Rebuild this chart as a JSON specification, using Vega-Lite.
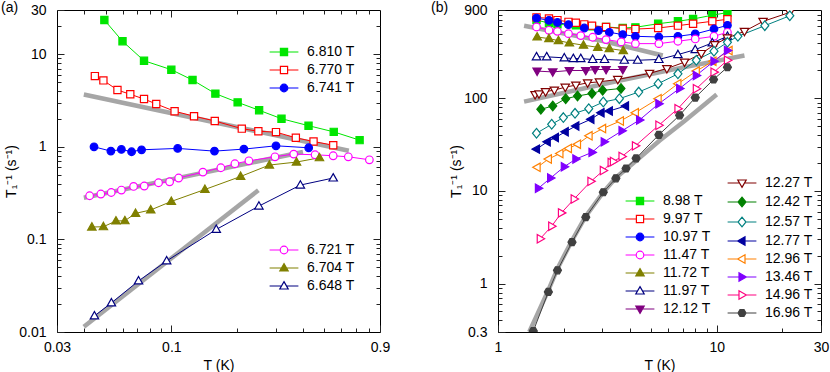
{
"$schema":"https://vega.github.io/schema/vega-lite/v6.json",
"padding":{"left":0,"top":0,"right":0,"bottom":0},
"spacing":39,
"config":{"font":"Liberation Sans","view":{"stroke":"#000","strokeWidth":1},
 "axis":{"domain":false,"grid":false,"tickColor":"#222","tickWidth":1,"labelFontSize":14,"labelColor":"#000","titleFontSize":14,"titleFontWeight":"normal","titleColor":"#000","labelFlush":false,"labelOverlap":false},
 "legend":{"labelFontSize":14,"labelColor":"#000","padding":0,"symbolStrokeWidth":1.2,"symbolOpacity":1,"rowPadding":4,"labelOffset":16,"symbolSize":64,"labelLimit":300},
 "title":{"fontSize":14,"fontWeight":"normal","color":"#000"}},
"resolve":{"scale":{"stroke":"independent","fill":"independent","shape":"independent"}},
"datasets":{
"afit":[{"f":"f1","T":0.0398,"r":3.67},{"f":"f1","T":0.648,"r":0.905},{"f":"f2","T":0.0398,"r":0.282},{"f":"f2","T":0.40,"r":0.88},{"f":"f3","T":0.0398,"r":0.0114},{"f":"f3","T":0.25,"r":0.34}],
"a1":[
{"s":"6.810 T","T":0.0494,"r":23.4},{"s":"6.810 T","T":0.0598,"r":13.8},{"s":"6.810 T","T":0.075,"r":8.5},{"s":"6.810 T","T":0.1,"r":6.8},{"s":"6.810 T","T":0.125,"r":5.26},{"s":"6.810 T","T":0.159,"r":3.75},{"s":"6.810 T","T":0.201,"r":3.02},{"s":"6.810 T","T":0.252,"r":2.48},{"s":"6.810 T","T":0.319,"r":2.01},{"s":"6.810 T","T":0.424,"r":1.69},{"s":"6.810 T","T":0.553,"r":1.45},{"s":"6.810 T","T":0.726,"r":1.18},
{"s":"6.770 T","T":0.0447,"r":5.8},{"s":"6.770 T","T":0.0489,"r":5.21},{"s":"6.770 T","T":0.0567,"r":4.1},{"s":"6.770 T","T":0.0649,"r":3.69},{"s":"6.770 T","T":0.075,"r":3.28},{"s":"6.770 T","T":0.0853,"r":2.9},{"s":"6.770 T","T":0.1035,"r":2.42},{"s":"6.770 T","T":0.127,"r":2.14},{"s":"6.770 T","T":0.158,"r":1.9},{"s":"6.770 T","T":0.21,"r":1.57},{"s":"6.770 T","T":0.25,"r":1.47},{"s":"6.770 T","T":0.301,"r":1.44},{"s":"6.770 T","T":0.371,"r":1.25},{"s":"6.770 T","T":0.447,"r":1.14},{"s":"6.770 T","T":0.55,"r":1.04},
{"s":"6.741 T","T":0.0443,"r":1.0},{"s":"6.741 T","T":0.0529,"r":0.898},{"s":"6.741 T","T":0.0591,"r":0.936},{"s":"6.741 T","T":0.0658,"r":0.884},{"s":"6.741 T","T":0.0731,"r":0.928},{"s":"6.741 T","T":0.1069,"r":0.96},{"s":"6.741 T","T":0.1575,"r":0.898},{"s":"6.741 T","T":0.2147,"r":0.944},{"s":"6.741 T","T":0.301,"r":1.025},{"s":"6.741 T","T":0.4247,"r":0.976}],
"a2":[
{"s":"6.721 T","T":0.0423,"r":0.296},{"s":"6.721 T","T":0.0476,"r":0.309},{"s":"6.721 T","T":0.0531,"r":0.321},{"s":"6.721 T","T":0.0591,"r":0.341},{"s":"6.721 T","T":0.0672,"r":0.373},{"s":"6.721 T","T":0.0752,"r":0.377},{"s":"6.721 T","T":0.0874,"r":0.409},{"s":"6.721 T","T":0.0982,"r":0.419},{"s":"6.721 T","T":0.108,"r":0.46},{"s":"6.721 T","T":0.1394,"r":0.533},{"s":"6.721 T","T":0.1684,"r":0.594},{"s":"6.721 T","T":0.1953,"r":0.656},{"s":"6.721 T","T":0.2263,"r":0.706},{"s":"6.721 T","T":0.2978,"r":0.78},{"s":"6.721 T","T":0.3628,"r":0.834},{"s":"6.721 T","T":0.4543,"r":0.82},{"s":"6.721 T","T":0.5498,"r":0.8},{"s":"6.721 T","T":0.6446,"r":0.78},{"s":"6.721 T","T":0.8047,"r":0.724},
{"s":"6.704 T","T":0.0433,"r":0.136},{"s":"6.704 T","T":0.0489,"r":0.137},{"s":"6.704 T","T":0.0558,"r":0.158},{"s":"6.704 T","T":0.0613,"r":0.159},{"s":"6.704 T","T":0.0686,"r":0.191},{"s":"6.704 T","T":0.0805,"r":0.208},{"s":"6.704 T","T":0.1,"r":0.257},{"s":"6.704 T","T":0.1424,"r":0.346},{"s":"6.704 T","T":0.2074,"r":0.478},{"s":"6.704 T","T":0.2806,"r":0.635},{"s":"6.704 T","T":0.3735,"r":0.684},{"s":"6.704 T","T":0.4757,"r":0.761},
{"s":"6.648 T","T":0.0445,"r":0.0149},{"s":"6.648 T","T":0.0532,"r":0.0206},{"s":"6.648 T","T":0.0708,"r":0.0356},{"s":"6.648 T","T":0.0952,"r":0.0585},{"s":"6.648 T","T":0.1605,"r":0.128},{"s":"6.648 T","T":0.2515,"r":0.229},{"s":"6.648 T","T":0.3891,"r":0.386},{"s":"6.648 T","T":0.5498,"r":0.46}],
"bfit":[{"f":"f1","T":1.316,"r":609},{"f":"f1","T":3.06,"r":414},{"f":"f1","T":5.67,"r":290},
{"f":"f2","T":1.316,"r":92.1},{"f":"f2","T":3.35,"r":150},{"f":"f2","T":6.77,"r":212},{"f":"f2","T":13.4,"r":290},
{"f":"f3","T":1.39,"r":0.3},{"f":"f3","T":1.7,"r":0.848},{"f":"f3","T":1.87,"r":1.45},{"f":"f3","T":2.18,"r":2.92},{"f":"f3","T":2.52,"r":5.34},{"f":"f3","T":3.03,"r":9.68},{"f":"f3","T":3.46,"r":13.9},{"f":"f3","T":4.28,"r":21.2},{"f":"f3","T":5.47,"r":34.8},{"f":"f3","T":7.13,"r":57},{"f":"f3","T":10.0,"r":110}],
"b1":[
{"s":"8.98 T","T":1.5,"r":700},{"s":"8.98 T","T":1.71,"r":650},{"s":"8.98 T","T":1.87,"r":630},{"s":"8.98 T","T":2.27,"r":615},{"s":"8.98 T","T":2.69,"r":600},{"s":"8.98 T","T":3.12,"r":590},{"s":"8.98 T","T":3.72,"r":575},{"s":"8.98 T","T":4.25,"r":585},{"s":"8.98 T","T":5.4,"r":640},{"s":"8.98 T","T":6.65,"r":680},{"s":"8.98 T","T":7.8,"r":720},{"s":"8.98 T","T":9.55,"r":790},{"s":"8.98 T","T":11.2,"r":845},
{"s":"9.97 T","T":1.5,"r":750},{"s":"9.97 T","T":1.71,"r":730},{"s":"9.97 T","T":1.87,"r":700},{"s":"9.97 T","T":2.1,"r":670},{"s":"9.97 T","T":2.27,"r":655},{"s":"9.97 T","T":2.48,"r":630},{"s":"9.97 T","T":2.69,"r":610},{"s":"9.97 T","T":3.12,"r":590},{"s":"9.97 T","T":3.72,"r":565},{"s":"9.97 T","T":4.25,"r":560},{"s":"9.97 T","T":5.4,"r":575},{"s":"9.97 T","T":6.65,"r":610},{"s":"9.97 T","T":7.8,"r":640},{"s":"9.97 T","T":9.55,"r":680},{"s":"9.97 T","T":11.2,"r":715},
{"s":"10.97 T","T":1.5,"r":737},{"s":"10.97 T","T":1.71,"r":695},{"s":"10.97 T","T":1.87,"r":660},{"s":"10.97 T","T":2.1,"r":625},{"s":"10.97 T","T":2.48,"r":575},{"s":"10.97 T","T":2.88,"r":539},{"s":"10.97 T","T":3.23,"r":517},{"s":"10.97 T","T":3.72,"r":488},{"s":"10.97 T","T":4.25,"r":468},{"s":"10.97 T","T":5.44,"r":460},{"s":"10.97 T","T":6.65,"r":468},{"s":"10.97 T","T":7.98,"r":496},{"s":"10.97 T","T":9.72,"r":561},{"s":"10.97 T","T":11.2,"r":615},
{"s":"11.47 T","T":1.5,"r":590},{"s":"11.47 T","T":1.71,"r":543},{"s":"11.47 T","T":1.87,"r":529},{"s":"11.47 T","T":2.1,"r":500},{"s":"11.47 T","T":2.39,"r":476},{"s":"11.47 T","T":2.71,"r":457},{"s":"11.47 T","T":3.12,"r":431},{"s":"11.47 T","T":3.66,"r":407},{"s":"11.47 T","T":4.25,"r":390},{"s":"11.47 T","T":5.44,"r":390},{"s":"11.47 T","T":6.65,"r":414},{"s":"11.47 T","T":7.98,"r":438},{"s":"11.47 T","T":9.72,"r":468},{"s":"11.47 T","T":11.2,"r":517},
{"s":"11.72 T","T":1.51,"r":460},{"s":"11.72 T","T":1.71,"r":442},{"s":"11.72 T","T":1.89,"r":420},{"s":"11.72 T","T":2.12,"r":397},{"s":"11.72 T","T":2.46,"r":375},{"s":"11.72 T","T":2.86,"r":356},{"s":"11.72 T","T":3.23,"r":345},{"s":"11.72 T","T":3.74,"r":328},
{"s":"11.97 T","T":1.5,"r":281},{"s":"11.97 T","T":1.67,"r":281},{"s":"11.97 T","T":2.01,"r":274},{"s":"11.97 T","T":2.21,"r":269},{"s":"11.97 T","T":2.39,"r":269},{"s":"11.97 T","T":2.71,"r":263},{"s":"11.97 T","T":3.07,"r":263},{"s":"11.97 T","T":3.78,"r":258},{"s":"11.97 T","T":4.35,"r":258},{"s":"11.97 T","T":5.44,"r":263},{"s":"11.97 T","T":6.65,"r":297},{"s":"11.97 T","T":7.98,"r":336},{"s":"11.97 T","T":9.55,"r":397},{"s":"11.97 T","T":11.2,"r":468},
{"s":"12.12 T","T":1.51,"r":197},{"s":"12.12 T","T":1.78,"r":193},{"s":"12.12 T","T":2.12,"r":200},{"s":"12.12 T","T":2.52,"r":200},{"s":"12.12 T","T":2.78,"r":205},{"s":"12.12 T","T":3.12,"r":205},{"s":"12.12 T","T":3.72,"r":205}],
"b2":[
{"s":"12.27 T","T":1.478,"r":110},{"s":"12.27 T","T":1.54,"r":112},{"s":"12.27 T","T":1.65,"r":118},{"s":"12.27 T","T":1.81,"r":123},{"s":"12.27 T","T":2.03,"r":132},{"s":"12.27 T","T":2.27,"r":139},{"s":"12.27 T","T":2.57,"r":147},{"s":"12.27 T","T":2.91,"r":151},{"s":"12.27 T","T":3.53,"r":160},{"s":"12.27 T","T":4.93,"r":186},{"s":"12.27 T","T":5.92,"r":210},{"s":"12.27 T","T":7.13,"r":246},{"s":"12.27 T","T":8.51,"r":305},{"s":"12.27 T","T":9.79,"r":381},{"s":"12.27 T","T":11.19,"r":449},{"s":"12.27 T","T":13.4,"r":530},{"s":"12.27 T","T":16.3,"r":678},{"s":"12.27 T","T":21.6,"r":848},
{"s":"12.42 T","T":1.57,"r":76.2},{"s":"12.42 T","T":1.78,"r":82.7},{"s":"12.42 T","T":2.04,"r":99.2},{"s":"12.42 T","T":2.31,"r":106},{"s":"12.42 T","T":2.69,"r":113},{"s":"12.42 T","T":3.01,"r":122},{"s":"12.42 T","T":3.65,"r":128},
{"s":"12.57 T","T":1.5,"r":42},{"s":"12.57 T","T":1.76,"r":52.5},{"s":"12.57 T","T":1.99,"r":62},{"s":"12.57 T","T":2.25,"r":69},{"s":"12.57 T","T":2.6,"r":77.4},{"s":"12.57 T","T":3.03,"r":91.3},{"s":"12.57 T","T":3.59,"r":99.2},{"s":"12.57 T","T":4.4,"r":117},{"s":"12.57 T","T":5.4,"r":144},{"s":"12.57 T","T":6.65,"r":184},{"s":"12.57 T","T":8.07,"r":258},{"s":"12.57 T","T":9.72,"r":323},{"s":"12.57 T","T":11.2,"r":403},{"s":"12.57 T","T":12.5,"r":468},{"s":"12.57 T","T":16.6,"r":609},{"s":"12.57 T","T":21.6,"r":780},
{"s":"12.77 T","T":1.5,"r":28.3},{"s":"12.77 T","T":1.68,"r":33.9},{"s":"12.77 T","T":1.83,"r":37.8},{"s":"12.77 T","T":2.03,"r":43.5},{"s":"12.77 T","T":2.27,"r":50.4},{"s":"12.77 T","T":2.66,"r":59.5},{"s":"12.77 T","T":2.96,"r":70.1},{"s":"12.77 T","T":3.23,"r":73.1},{"s":"12.77 T","T":3.83,"r":82.7},
{"s":"12.96 T","T":1.51,"r":18},{"s":"12.96 T","T":1.7,"r":22.1},{"s":"12.96 T","T":1.92,"r":25.4},{"s":"12.96 T","T":2.1,"r":28.8},{"s":"12.96 T","T":2.31,"r":32},{"s":"12.96 T","T":2.61,"r":39.4},{"s":"12.96 T","T":3.01,"r":47.2},{"s":"12.96 T","T":3.63,"r":57},{"s":"12.96 T","T":4.25,"r":70.1},{"s":"12.96 T","T":5.4,"r":99.2},{"s":"12.96 T","T":6.65,"r":144},{"s":"12.96 T","T":8.07,"r":197},{"s":"12.96 T","T":9.62,"r":252},{"s":"12.96 T","T":11.4,"r":328},
{"s":"13.46 T","T":1.53,"r":10.7},{"s":"13.46 T","T":1.74,"r":13.8},{"s":"13.46 T","T":2.01,"r":18.3},{"s":"13.46 T","T":2.27,"r":22.1},{"s":"13.46 T","T":2.69,"r":26.1},{"s":"13.46 T","T":3.06,"r":33.9},{"s":"13.46 T","T":3.69,"r":44.6},{"s":"13.46 T","T":4.44,"r":58.5},{"s":"13.46 T","T":5.44,"r":87.6},{"s":"13.46 T","T":6.77,"r":128},{"s":"13.46 T","T":8.07,"r":177},{"s":"13.46 T","T":9.72,"r":252},{"s":"13.46 T","T":11.2,"r":328},
{"s":"14.96 T","T":1.56,"r":3.05},{"s":"14.96 T","T":1.76,"r":4.17},{"s":"14.96 T","T":1.95,"r":5.8},{"s":"14.96 T","T":2.23,"r":8.2},{"s":"14.96 T","T":2.66,"r":12.7},{"s":"14.96 T","T":3.03,"r":16.6},{"s":"14.96 T","T":3.29,"r":20.3},{"s":"14.96 T","T":3.37,"r":20.8},{"s":"14.96 T","T":3.69,"r":23.6},{"s":"14.96 T","T":4.25,"r":30.7},{"s":"14.96 T","T":5.44,"r":51.3},{"s":"14.96 T","T":6.65,"r":77.4},{"s":"14.96 T","T":8.07,"r":127},{"s":"14.96 T","T":9.72,"r":192},{"s":"14.96 T","T":11.2,"r":258},
{"s":"16.96 T","T":1.45,"r":0.307},{"s":"16.96 T","T":1.7,"r":0.813},{"s":"16.96 T","T":1.87,"r":1.39},{"s":"16.96 T","T":2.18,"r":2.8},{"s":"16.96 T","T":2.52,"r":5.21},{"s":"16.96 T","T":3.03,"r":9.68},{"s":"16.96 T","T":3.46,"r":13.7},{"s":"16.96 T","T":3.85,"r":17.5},{"s":"16.96 T","T":4.28,"r":22.5},{"s":"16.96 T","T":5.44,"r":40.4},{"s":"16.96 T","T":6.77,"r":65.6},{"s":"16.96 T","T":7.98,"r":102},{"s":"16.96 T","T":9.68,"r":160},{"s":"16.96 T","T":11.2,"r":217}]
},
"hconcat":[
{"width":323,"height":322,
 "title":{"text":"(a)","anchor":"start","frame":"group","dx":-56,"offset":-12},
 "layer":[
  {"data":{"name":"afit"},"mark":{"type":"line","color":"#a6a6a6","strokeWidth":4.5,"clip":true},
   "encoding":{"x":{"field":"T","type":"quantitative","scale":{"type":"log","domain":[0.03,0.9],"nice":false},"axis":{"orient":"bottom","values":[0.03,0.1,0.9],"tickSize":-7,"labelPadding":15,"title":"T (K)","format":"~g","titlePadding":4}},
    "y":{"field":"r","type":"quantitative","scale":{"type":"log","domain":[0.01,30],"nice":false},"axis":{"orient":"left","values":[0.01,0.1,1,10,30],"tickSize":-7,"labelPadding":18,"title":"T₁⁻¹ (s⁻¹)","format":"~g","titlePadding":0}},
    "detail":{"field":"f"}}},
  {"data":{"name":"afit"},"mark":{"type":"line","opacity":0},
   "encoding":{"x":{"field":"T","type":"quantitative","scale":{"type":"log","domain":[0.03,0.9],"nice":false},"axis":{"orient":"bottom","values":[0.04,0.05,0.06,0.07,0.08,0.09,0.2,0.3,0.4,0.5,0.6,0.7,0.8],"tickSize":-4,"labels":false,"title":null}},
    "y":{"field":"r","type":"quantitative","scale":{"type":"log","domain":[0.01,30],"nice":false},"axis":{"orient":"left","values":[0.02,0.03,0.04,0.05,0.06,0.07,0.08,0.09,0.2,0.3,0.4,0.5,0.6,0.7,0.8,0.9,2,3,4,5,6,7,8,9,20],"tickSize":-4,"labels":false,"title":null}},
    "detail":{"field":"f"}}},
  {"data":{"name":"afit"},"mark":{"type":"line","opacity":0},
   "encoding":{"x":{"field":"T","type":"quantitative","scale":{"type":"log","domain":[0.03,0.9],"nice":false},"axis":{"orient":"top","values":[0.1],"tickSize":-7,"labels":false,"title":null}},
    "y":{"field":"r","type":"quantitative","scale":{"type":"log","domain":[0.01,30],"nice":false},"axis":{"orient":"right","values":[0.1,1,10],"tickSize":-7,"labels":false,"title":null}},
    "detail":{"field":"f"}}},
  {"data":{"name":"afit"},"mark":{"type":"line","opacity":0},
   "encoding":{"x":{"field":"T","type":"quantitative","scale":{"type":"log","domain":[0.03,0.9],"nice":false},"axis":{"orient":"top","values":[0.04,0.05,0.06,0.07,0.08,0.09,0.2,0.3,0.4,0.5,0.6,0.7,0.8],"tickSize":-4,"labels":false,"title":null}},
    "y":{"field":"r","type":"quantitative","scale":{"type":"log","domain":[0.01,30],"nice":false},"axis":{"orient":"right","values":[0.02,0.03,0.04,0.05,0.06,0.07,0.08,0.09,0.2,0.3,0.4,0.5,0.6,0.7,0.8,0.9,2,3,4,5,6,7,8,9,20],"tickSize":-4,"labels":false,"title":null}},
    "detail":{"field":"f"}}},
  {"data":{"name":"a1"},
   "layer":[
    {"mark":{"type":"point","opacity":0,"size":64},
     "encoding":{"x":{"field":"T","type":"quantitative","scale":{"type":"log","domain":[0.03,0.9],"nice":false},"axis":null},"y":{"field":"r","type":"quantitative","scale":{"type":"log","domain":[0.01,30],"nice":false},"axis":null},
      "stroke":{"field":"s","type":"nominal","scale":{"domain":["6.810 T","6.770 T","6.741 T"],"range":["#00e600","#ff0000","#0000ff"]},
        "legend":{"orient":"none","legendX":220,"legendY":35,"title":null}},
      "fill":{"field":"s","type":"nominal","scale":{"domain":["6.810 T","6.770 T","6.741 T"],"range":["#00e600","#ffffff","#0000ff"]}},
      "shape":{"field":"s","type":"nominal","scale":{"domain":["6.810 T","6.770 T","6.741 T"],"range":["M-3.6,0H-0.9M0.9,0H3.6M-0.9,-0.9H0.9V0.9H-0.9Z","M-3.6,0H-0.9M0.9,0H3.6M-0.9,-0.9H0.9V0.9H-0.9Z","M-3.6,0H-0.95M0.95,0H3.6M0.95,0A0.95,0.95,0,1,1,-0.95,0A0.95,0.95,0,1,1,0.95,0Z"]}}}},
    {"mark":{"type":"line","strokeWidth":1,"clip":true},
     "encoding":{"x":{"field":"T","type":"quantitative","scale":{"type":"log","domain":[0.03,0.9],"nice":false},"axis":null},"y":{"field":"r","type":"quantitative","scale":{"type":"log","domain":[0.01,30],"nice":false},"axis":null},
      "stroke":{"field":"s","type":"nominal","scale":{"domain":["6.810 T","6.770 T","6.741 T"],"range":["#00e600","#ff0000","#0000ff"]}}}},
    {"transform":[{"filter":{"field":"s","equal":"6.810 T"}}],"mark":{"type":"point","shape":"M-0.9,-0.9H0.9V0.9H-0.9Z","filled":true,"fill":"#00e600","size":64,"strokeWidth":1.2,"opacity":1,"clip":true},
     "encoding":{"x":{"field":"T","type":"quantitative","scale":{"type":"log","domain":[0.03,0.9],"nice":false},"axis":null},"y":{"field":"r","type":"quantitative","scale":{"type":"log","domain":[0.01,30],"nice":false},"axis":null},
      "stroke":{"field":"s","type":"nominal","scale":{"domain":["6.810 T","6.770 T","6.741 T"],"range":["#00e600","#ff0000","#0000ff"]}}}},
    {"transform":[{"filter":{"field":"s","equal":"6.770 T"}}],"mark":{"type":"point","shape":"M-0.9,-0.9H0.9V0.9H-0.9Z","filled":true,"fill":"#ffffff","size":64,"strokeWidth":1.2,"opacity":1,"clip":true},
     "encoding":{"x":{"field":"T","type":"quantitative","scale":{"type":"log","domain":[0.03,0.9],"nice":false},"axis":null},"y":{"field":"r","type":"quantitative","scale":{"type":"log","domain":[0.01,30],"nice":false},"axis":null},
      "stroke":{"field":"s","type":"nominal","scale":{"domain":["6.810 T","6.770 T","6.741 T"],"range":["#00e600","#ff0000","#0000ff"]}}}},
    {"transform":[{"filter":{"field":"s","equal":"6.741 T"}}],"mark":{"type":"point","shape":"M0.95,0A0.95,0.95,0,1,1,-0.95,0A0.95,0.95,0,1,1,0.95,0Z","filled":true,"fill":"#0000ff","size":64,"strokeWidth":1.2,"opacity":1,"clip":true},
     "encoding":{"x":{"field":"T","type":"quantitative","scale":{"type":"log","domain":[0.03,0.9],"nice":false},"axis":null},"y":{"field":"r","type":"quantitative","scale":{"type":"log","domain":[0.01,30],"nice":false},"axis":null},
      "stroke":{"field":"s","type":"nominal","scale":{"domain":["6.810 T","6.770 T","6.741 T"],"range":["#00e600","#ff0000","#0000ff"]}}}}
   ]},
  {"data":{"name":"a2"},
   "layer":[
    {"mark":{"type":"point","opacity":0,"size":64},
     "encoding":{"x":{"field":"T","type":"quantitative","scale":{"type":"log","domain":[0.03,0.9],"nice":false},"axis":null},"y":{"field":"r","type":"quantitative","scale":{"type":"log","domain":[0.01,30],"nice":false},"axis":null},
      "stroke":{"field":"s","type":"nominal","scale":{"domain":["6.721 T","6.704 T","6.648 T"],"range":["#ff00ff","#808000","#000080"]},
        "legend":{"orient":"none","legendX":220,"legendY":233,"title":null}},
      "fill":{"field":"s","type":"nominal","scale":{"domain":["6.721 T","6.704 T","6.648 T"],"range":["#ffffff","#808000","#ffffff"]}},
      "shape":{"field":"s","type":"nominal","scale":{"domain":["6.721 T","6.704 T","6.648 T"],"range":["M-3.6,0H-0.95M0.95,0H3.6M0.95,0A0.95,0.95,0,1,1,-0.95,0A0.95,0.95,0,1,1,0.95,0Z","M-3.6,0H-0.62M0.62,0H3.6M0,-1.1L1.05,0.75H-1.05Z","M-3.6,0H-0.62M0.62,0H3.6M0,-1.1L1.05,0.75H-1.05Z"]}}}},
    {"mark":{"type":"line","strokeWidth":1,"clip":true},
     "encoding":{"x":{"field":"T","type":"quantitative","scale":{"type":"log","domain":[0.03,0.9],"nice":false},"axis":null},"y":{"field":"r","type":"quantitative","scale":{"type":"log","domain":[0.01,30],"nice":false},"axis":null},
      "stroke":{"field":"s","type":"nominal","scale":{"domain":["6.721 T","6.704 T","6.648 T"],"range":["#ff00ff","#808000","#000080"]}}}},
    {"transform":[{"filter":{"field":"s","equal":"6.721 T"}}],"mark":{"type":"point","shape":"M0.95,0A0.95,0.95,0,1,1,-0.95,0A0.95,0.95,0,1,1,0.95,0Z","filled":true,"fill":"#ffffff","size":64,"strokeWidth":1.2,"opacity":1,"clip":true},
     "encoding":{"x":{"field":"T","type":"quantitative","scale":{"type":"log","domain":[0.03,0.9],"nice":false},"axis":null},"y":{"field":"r","type":"quantitative","scale":{"type":"log","domain":[0.01,30],"nice":false},"axis":null},
      "stroke":{"field":"s","type":"nominal","scale":{"domain":["6.721 T","6.704 T","6.648 T"],"range":["#ff00ff","#808000","#000080"]}}}},
    {"transform":[{"filter":{"field":"s","equal":"6.704 T"}}],"mark":{"type":"point","shape":"M0,-1.1L1.05,0.75H-1.05Z","filled":true,"fill":"#808000","size":64,"strokeWidth":1.2,"opacity":1,"clip":true},
     "encoding":{"x":{"field":"T","type":"quantitative","scale":{"type":"log","domain":[0.03,0.9],"nice":false},"axis":null},"y":{"field":"r","type":"quantitative","scale":{"type":"log","domain":[0.01,30],"nice":false},"axis":null},
      "stroke":{"field":"s","type":"nominal","scale":{"domain":["6.721 T","6.704 T","6.648 T"],"range":["#ff00ff","#808000","#000080"]}}}},
    {"transform":[{"filter":{"field":"s","equal":"6.648 T"}}],"mark":{"type":"point","shape":"M0,-1.1L1.05,0.75H-1.05Z","filled":true,"fill":"#ffffff","size":64,"strokeWidth":1.2,"opacity":1,"clip":true},
     "encoding":{"x":{"field":"T","type":"quantitative","scale":{"type":"log","domain":[0.03,0.9],"nice":false},"axis":null},"y":{"field":"r","type":"quantitative","scale":{"type":"log","domain":[0.01,30],"nice":false},"axis":null},
      "stroke":{"field":"s","type":"nominal","scale":{"domain":["6.721 T","6.704 T","6.648 T"],"range":["#ff00ff","#808000","#000080"]}}}}
   ]}
 ],
 "resolve":{"axis":{"x":"independent","y":"independent"},"scale":{"stroke":"independent","fill":"independent","shape":"independent"}}
},
{"width":323,"height":322,
 "title":{"text":"(b)","anchor":"start","frame":"group","dx":-67,"offset":-12},
 "layer":[
  {"data":{"name":"bfit"},"mark":{"type":"line","color":"#a6a6a6","strokeWidth":4.5,"clip":true},
   "encoding":{"x":{"field":"T","type":"quantitative","scale":{"type":"log","domain":[1,30],"nice":false},"axis":{"orient":"bottom","values":[1,10,30],"tickSize":-7,"labelPadding":15,"title":"T (K)","format":"~g","titlePadding":4}},
    "y":{"field":"r","type":"quantitative","scale":{"type":"log","domain":[0.3,900],"nice":false},"axis":{"orient":"left","values":[0.3,1,10,100,900],"tickSize":-7,"labelPadding":18,"title":"T₁⁻¹ (s⁻¹)","format":"~g","titlePadding":0}},
    "detail":{"field":"f"}}},
  {"data":{"name":"bfit"},"mark":{"type":"line","opacity":0},
   "encoding":{"x":{"field":"T","type":"quantitative","scale":{"type":"log","domain":[1,30],"nice":false},"axis":{"orient":"bottom","values":[2,3,4,5,6,7,8,9,20],"tickSize":-4,"labels":false,"title":null}},
    "y":{"field":"r","type":"quantitative","scale":{"type":"log","domain":[0.3,900],"nice":false},"axis":{"orient":"left","values":[0.4,0.5,0.6,0.7,0.8,0.9,2,3,4,5,6,7,8,9,20,30,40,50,60,70,80,90,200,300,400,500,600,700,800],"tickSize":-4,"labels":false,"title":null}},
    "detail":{"field":"f"}}},
  {"data":{"name":"bfit"},"mark":{"type":"line","opacity":0},
   "encoding":{"x":{"field":"T","type":"quantitative","scale":{"type":"log","domain":[1,30],"nice":false},"axis":{"orient":"top","values":[10],"tickSize":-7,"labels":false,"title":null}},
    "y":{"field":"r","type":"quantitative","scale":{"type":"log","domain":[0.3,900],"nice":false},"axis":{"orient":"right","values":[1,10,100],"tickSize":-7,"labels":false,"title":null}},
    "detail":{"field":"f"}}},
  {"data":{"name":"bfit"},"mark":{"type":"line","opacity":0},
   "encoding":{"x":{"field":"T","type":"quantitative","scale":{"type":"log","domain":[1,30],"nice":false},"axis":{"orient":"top","values":[2,3,4,5,6,7,8,9,20],"tickSize":-4,"labels":false,"title":null}},
    "y":{"field":"r","type":"quantitative","scale":{"type":"log","domain":[0.3,900],"nice":false},"axis":{"orient":"right","values":[0.4,0.5,0.6,0.7,0.8,0.9,2,3,4,5,6,7,8,9,20,30,40,50,60,70,80,90,200,300,400,500,600,700,800],"tickSize":-4,"labels":false,"title":null}},
    "detail":{"field":"f"}}},
  {"data":{"name":"b1"},
   "layer":[
    {"mark":{"type":"point","opacity":0,"size":64},
     "encoding":{"x":{"field":"T","type":"quantitative","scale":{"type":"log","domain":[1,30],"nice":false},"axis":null},"y":{"field":"r","type":"quantitative","scale":{"type":"log","domain":[0.3,900],"nice":false},"axis":null},
      "stroke":{"field":"s","type":"nominal","scale":{"domain":["8.98 T","9.97 T","10.97 T","11.47 T","11.72 T","11.97 T","12.12 T"],"range":["#00e600","#ff0000","#0000ff","#ff00ff","#808000","#000080","#800080"]},
        "legend":{"orient":"none","legendX":135,"legendY":184,"title":null}},
      "fill":{"field":"s","type":"nominal","scale":{"domain":["8.98 T","9.97 T","10.97 T","11.47 T","11.72 T","11.97 T","12.12 T"],"range":["#00e600","#ffffff","#0000ff","#ffffff","#808000","#ffffff","#800080"]}},
      "shape":{"field":"s","type":"nominal","scale":{"domain":["8.98 T","9.97 T","10.97 T","11.47 T","11.72 T","11.97 T","12.12 T"],"range":["M-3.6,0H-0.9M0.9,0H3.6M-0.9,-0.9H0.9V0.9H-0.9Z","M-3.6,0H-0.9M0.9,0H3.6M-0.9,-0.9H0.9V0.9H-0.9Z","M-3.6,0H-0.95M0.95,0H3.6M0.95,0A0.95,0.95,0,1,1,-0.95,0A0.95,0.95,0,1,1,0.95,0Z","M-3.6,0H-0.95M0.95,0H3.6M0.95,0A0.95,0.95,0,1,1,-0.95,0A0.95,0.95,0,1,1,0.95,0Z","M-3.6,0H-0.62M0.62,0H3.6M0,-1.1L1.05,0.75H-1.05Z","M-3.6,0H-0.62M0.62,0H3.6M0,-1.1L1.05,0.75H-1.05Z","M-3.6,0H-0.62M0.62,0H3.6M0,1.1L1.05,-0.75H-1.05Z"]}}}},
    {"mark":{"type":"line","strokeWidth":1,"clip":true},
     "encoding":{"x":{"field":"T","type":"quantitative","scale":{"type":"log","domain":[1,30],"nice":false},"axis":null},"y":{"field":"r","type":"quantitative","scale":{"type":"log","domain":[0.3,900],"nice":false},"axis":null},
      "stroke":{"field":"s","type":"nominal","scale":{"domain":["8.98 T","9.97 T","10.97 T","11.47 T","11.72 T","11.97 T","12.12 T"],"range":["#00e600","#ff0000","#0000ff","#ff00ff","#808000","#000080","#800080"]}}}},
    {"transform":[{"filter":{"field":"s","equal":"8.98 T"}}],"mark":{"type":"point","shape":"M-0.9,-0.9H0.9V0.9H-0.9Z","filled":true,"fill":"#00e600","size":64,"strokeWidth":1.2,"opacity":1,"clip":true},
     "encoding":{"x":{"field":"T","type":"quantitative","scale":{"type":"log","domain":[1,30],"nice":false},"axis":null},"y":{"field":"r","type":"quantitative","scale":{"type":"log","domain":[0.3,900],"nice":false},"axis":null},
      "stroke":{"field":"s","type":"nominal","scale":{"domain":["8.98 T","9.97 T","10.97 T","11.47 T","11.72 T","11.97 T","12.12 T"],"range":["#00e600","#ff0000","#0000ff","#ff00ff","#808000","#000080","#800080"]}}}},
    {"transform":[{"filter":{"field":"s","equal":"9.97 T"}}],"mark":{"type":"point","shape":"M-0.9,-0.9H0.9V0.9H-0.9Z","filled":true,"fill":"#ffffff","size":64,"strokeWidth":1.2,"opacity":1,"clip":true},
     "encoding":{"x":{"field":"T","type":"quantitative","scale":{"type":"log","domain":[1,30],"nice":false},"axis":null},"y":{"field":"r","type":"quantitative","scale":{"type":"log","domain":[0.3,900],"nice":false},"axis":null},
      "stroke":{"field":"s","type":"nominal","scale":{"domain":["8.98 T","9.97 T","10.97 T","11.47 T","11.72 T","11.97 T","12.12 T"],"range":["#00e600","#ff0000","#0000ff","#ff00ff","#808000","#000080","#800080"]}}}},
    {"transform":[{"filter":{"field":"s","equal":"10.97 T"}}],"mark":{"type":"point","shape":"M0.95,0A0.95,0.95,0,1,1,-0.95,0A0.95,0.95,0,1,1,0.95,0Z","filled":true,"fill":"#0000ff","size":64,"strokeWidth":1.2,"opacity":1,"clip":true},
     "encoding":{"x":{"field":"T","type":"quantitative","scale":{"type":"log","domain":[1,30],"nice":false},"axis":null},"y":{"field":"r","type":"quantitative","scale":{"type":"log","domain":[0.3,900],"nice":false},"axis":null},
      "stroke":{"field":"s","type":"nominal","scale":{"domain":["8.98 T","9.97 T","10.97 T","11.47 T","11.72 T","11.97 T","12.12 T"],"range":["#00e600","#ff0000","#0000ff","#ff00ff","#808000","#000080","#800080"]}}}},
    {"transform":[{"filter":{"field":"s","equal":"11.47 T"}}],"mark":{"type":"point","shape":"M0.95,0A0.95,0.95,0,1,1,-0.95,0A0.95,0.95,0,1,1,0.95,0Z","filled":true,"fill":"#ffffff","size":64,"strokeWidth":1.2,"opacity":1,"clip":true},
     "encoding":{"x":{"field":"T","type":"quantitative","scale":{"type":"log","domain":[1,30],"nice":false},"axis":null},"y":{"field":"r","type":"quantitative","scale":{"type":"log","domain":[0.3,900],"nice":false},"axis":null},
      "stroke":{"field":"s","type":"nominal","scale":{"domain":["8.98 T","9.97 T","10.97 T","11.47 T","11.72 T","11.97 T","12.12 T"],"range":["#00e600","#ff0000","#0000ff","#ff00ff","#808000","#000080","#800080"]}}}},
    {"transform":[{"filter":{"field":"s","equal":"11.72 T"}}],"mark":{"type":"point","shape":"M0,-1.1L1.05,0.75H-1.05Z","filled":true,"fill":"#808000","size":64,"strokeWidth":1.2,"opacity":1,"clip":true},
     "encoding":{"x":{"field":"T","type":"quantitative","scale":{"type":"log","domain":[1,30],"nice":false},"axis":null},"y":{"field":"r","type":"quantitative","scale":{"type":"log","domain":[0.3,900],"nice":false},"axis":null},
      "stroke":{"field":"s","type":"nominal","scale":{"domain":["8.98 T","9.97 T","10.97 T","11.47 T","11.72 T","11.97 T","12.12 T"],"range":["#00e600","#ff0000","#0000ff","#ff00ff","#808000","#000080","#800080"]}}}},
    {"transform":[{"filter":{"field":"s","equal":"11.97 T"}}],"mark":{"type":"point","shape":"M0,-1.1L1.05,0.75H-1.05Z","filled":true,"fill":"#ffffff","size":64,"strokeWidth":1.2,"opacity":1,"clip":true},
     "encoding":{"x":{"field":"T","type":"quantitative","scale":{"type":"log","domain":[1,30],"nice":false},"axis":null},"y":{"field":"r","type":"quantitative","scale":{"type":"log","domain":[0.3,900],"nice":false},"axis":null},
      "stroke":{"field":"s","type":"nominal","scale":{"domain":["8.98 T","9.97 T","10.97 T","11.47 T","11.72 T","11.97 T","12.12 T"],"range":["#00e600","#ff0000","#0000ff","#ff00ff","#808000","#000080","#800080"]}}}},
    {"transform":[{"filter":{"field":"s","equal":"12.12 T"}}],"mark":{"type":"point","shape":"M0,1.1L1.05,-0.75H-1.05Z","filled":true,"fill":"#800080","size":64,"strokeWidth":1.2,"opacity":1,"clip":true},
     "encoding":{"x":{"field":"T","type":"quantitative","scale":{"type":"log","domain":[1,30],"nice":false},"axis":null},"y":{"field":"r","type":"quantitative","scale":{"type":"log","domain":[0.3,900],"nice":false},"axis":null},
      "stroke":{"field":"s","type":"nominal","scale":{"domain":["8.98 T","9.97 T","10.97 T","11.47 T","11.72 T","11.97 T","12.12 T"],"range":["#00e600","#ff0000","#0000ff","#ff00ff","#808000","#000080","#800080"]}}}}
   ]},
  {"data":{"name":"b2"},
   "layer":[
    {"mark":{"type":"point","opacity":0,"size":64},
     "encoding":{"x":{"field":"T","type":"quantitative","scale":{"type":"log","domain":[1,30],"nice":false},"axis":null},"y":{"field":"r","type":"quantitative","scale":{"type":"log","domain":[0.3,900],"nice":false},"axis":null},
      "stroke":{"field":"s","type":"nominal","scale":{"domain":["12.27 T","12.42 T","12.57 T","12.77 T","12.96 T","13.46 T","14.96 T","16.96 T"],"range":["#800000","#008000","#008080","#0000a0","#ff8000","#8000ff","#ff0080","#404040"]},
        "legend":{"orient":"none","legendX":237,"legendY":166,"title":null}},
      "fill":{"field":"s","type":"nominal","scale":{"domain":["12.27 T","12.42 T","12.57 T","12.77 T","12.96 T","13.46 T","14.96 T","16.96 T"],"range":["#ffffff","#008000","#ffffff","#0000a0","#ffffff","#8000ff","#ffffff","#404040"]}},
      "shape":{"field":"s","type":"nominal","scale":{"domain":["12.27 T","12.42 T","12.57 T","12.77 T","12.96 T","13.46 T","14.96 T","16.96 T"],"range":["M-3.6,0H-0.62M0.62,0H3.6M0,1.1L1.05,-0.75H-1.05Z","M-3.6,0H-1M1,0H3.6M0,-1.2L1,0L0,1.2L-1,0Z","M-3.6,0H-1M1,0H3.6M0,-1.2L1,0L0,1.2L-1,0Z","M-3.6,0H-1.1M0.75,0H3.6M-1.1,0L0.75,-1.05V1.05Z","M-3.6,0H-1.1M0.75,0H3.6M-1.1,0L0.75,-1.05V1.05Z","M-3.6,0H-0.75M1.1,0H3.6M1.1,0L-0.75,-1.05V1.05Z","M-3.6,0H-0.75M1.1,0H3.6M1.1,0L-0.75,-1.05V1.05Z","M-3.6,0H-1M1,0H3.6M-1,0L-0.5,-0.87H0.5L1,0L0.5,0.87H-0.5Z"]}}}},
    {"mark":{"type":"line","strokeWidth":1,"clip":true},
     "encoding":{"x":{"field":"T","type":"quantitative","scale":{"type":"log","domain":[1,30],"nice":false},"axis":null},"y":{"field":"r","type":"quantitative","scale":{"type":"log","domain":[0.3,900],"nice":false},"axis":null},
      "stroke":{"field":"s","type":"nominal","scale":{"domain":["12.27 T","12.42 T","12.57 T","12.77 T","12.96 T","13.46 T","14.96 T","16.96 T"],"range":["#800000","#008000","#008080","#0000a0","#ff8000","#8000ff","#ff0080","#404040"]}}}},
    {"transform":[{"filter":{"field":"s","equal":"12.27 T"}}],"mark":{"type":"point","shape":"M0,1.1L1.05,-0.75H-1.05Z","filled":true,"fill":"#ffffff","size":64,"strokeWidth":1.2,"opacity":1,"clip":true},
     "encoding":{"x":{"field":"T","type":"quantitative","scale":{"type":"log","domain":[1,30],"nice":false},"axis":null},"y":{"field":"r","type":"quantitative","scale":{"type":"log","domain":[0.3,900],"nice":false},"axis":null},
      "stroke":{"field":"s","type":"nominal","scale":{"domain":["12.27 T","12.42 T","12.57 T","12.77 T","12.96 T","13.46 T","14.96 T","16.96 T"],"range":["#800000","#008000","#008080","#0000a0","#ff8000","#8000ff","#ff0080","#404040"]}}}},
    {"transform":[{"filter":{"field":"s","equal":"12.42 T"}}],"mark":{"type":"point","shape":"M0,-1.2L1,0L0,1.2L-1,0Z","filled":true,"fill":"#008000","size":64,"strokeWidth":1.2,"opacity":1,"clip":true},
     "encoding":{"x":{"field":"T","type":"quantitative","scale":{"type":"log","domain":[1,30],"nice":false},"axis":null},"y":{"field":"r","type":"quantitative","scale":{"type":"log","domain":[0.3,900],"nice":false},"axis":null},
      "stroke":{"field":"s","type":"nominal","scale":{"domain":["12.27 T","12.42 T","12.57 T","12.77 T","12.96 T","13.46 T","14.96 T","16.96 T"],"range":["#800000","#008000","#008080","#0000a0","#ff8000","#8000ff","#ff0080","#404040"]}}}},
    {"transform":[{"filter":{"field":"s","equal":"12.57 T"}}],"mark":{"type":"point","shape":"M0,-1.2L1,0L0,1.2L-1,0Z","filled":true,"fill":"#ffffff","size":64,"strokeWidth":1.2,"opacity":1,"clip":true},
     "encoding":{"x":{"field":"T","type":"quantitative","scale":{"type":"log","domain":[1,30],"nice":false},"axis":null},"y":{"field":"r","type":"quantitative","scale":{"type":"log","domain":[0.3,900],"nice":false},"axis":null},
      "stroke":{"field":"s","type":"nominal","scale":{"domain":["12.27 T","12.42 T","12.57 T","12.77 T","12.96 T","13.46 T","14.96 T","16.96 T"],"range":["#800000","#008000","#008080","#0000a0","#ff8000","#8000ff","#ff0080","#404040"]}}}},
    {"transform":[{"filter":{"field":"s","equal":"12.77 T"}}],"mark":{"type":"point","shape":"M-1.1,0L0.75,-1.05V1.05Z","filled":true,"fill":"#0000a0","size":64,"strokeWidth":1.2,"opacity":1,"clip":true},
     "encoding":{"x":{"field":"T","type":"quantitative","scale":{"type":"log","domain":[1,30],"nice":false},"axis":null},"y":{"field":"r","type":"quantitative","scale":{"type":"log","domain":[0.3,900],"nice":false},"axis":null},
      "stroke":{"field":"s","type":"nominal","scale":{"domain":["12.27 T","12.42 T","12.57 T","12.77 T","12.96 T","13.46 T","14.96 T","16.96 T"],"range":["#800000","#008000","#008080","#0000a0","#ff8000","#8000ff","#ff0080","#404040"]}}}},
    {"transform":[{"filter":{"field":"s","equal":"12.96 T"}}],"mark":{"type":"point","shape":"M-1.1,0L0.75,-1.05V1.05Z","filled":true,"fill":"#ffffff","size":64,"strokeWidth":1.2,"opacity":1,"clip":true},
     "encoding":{"x":{"field":"T","type":"quantitative","scale":{"type":"log","domain":[1,30],"nice":false},"axis":null},"y":{"field":"r","type":"quantitative","scale":{"type":"log","domain":[0.3,900],"nice":false},"axis":null},
      "stroke":{"field":"s","type":"nominal","scale":{"domain":["12.27 T","12.42 T","12.57 T","12.77 T","12.96 T","13.46 T","14.96 T","16.96 T"],"range":["#800000","#008000","#008080","#0000a0","#ff8000","#8000ff","#ff0080","#404040"]}}}},
    {"transform":[{"filter":{"field":"s","equal":"13.46 T"}}],"mark":{"type":"point","shape":"M1.1,0L-0.75,-1.05V1.05Z","filled":true,"fill":"#8000ff","size":64,"strokeWidth":1.2,"opacity":1,"clip":true},
     "encoding":{"x":{"field":"T","type":"quantitative","scale":{"type":"log","domain":[1,30],"nice":false},"axis":null},"y":{"field":"r","type":"quantitative","scale":{"type":"log","domain":[0.3,900],"nice":false},"axis":null},
      "stroke":{"field":"s","type":"nominal","scale":{"domain":["12.27 T","12.42 T","12.57 T","12.77 T","12.96 T","13.46 T","14.96 T","16.96 T"],"range":["#800000","#008000","#008080","#0000a0","#ff8000","#8000ff","#ff0080","#404040"]}}}},
    {"transform":[{"filter":{"field":"s","equal":"14.96 T"}}],"mark":{"type":"point","shape":"M1.1,0L-0.75,-1.05V1.05Z","filled":true,"fill":"#ffffff","size":64,"strokeWidth":1.2,"opacity":1,"clip":true},
     "encoding":{"x":{"field":"T","type":"quantitative","scale":{"type":"log","domain":[1,30],"nice":false},"axis":null},"y":{"field":"r","type":"quantitative","scale":{"type":"log","domain":[0.3,900],"nice":false},"axis":null},
      "stroke":{"field":"s","type":"nominal","scale":{"domain":["12.27 T","12.42 T","12.57 T","12.77 T","12.96 T","13.46 T","14.96 T","16.96 T"],"range":["#800000","#008000","#008080","#0000a0","#ff8000","#8000ff","#ff0080","#404040"]}}}},
    {"transform":[{"filter":{"field":"s","equal":"16.96 T"}}],"mark":{"type":"point","shape":"M-1,0L-0.5,-0.87H0.5L1,0L0.5,0.87H-0.5Z","filled":true,"fill":"#404040","size":64,"strokeWidth":1.2,"opacity":1,"clip":true},
     "encoding":{"x":{"field":"T","type":"quantitative","scale":{"type":"log","domain":[1,30],"nice":false},"axis":null},"y":{"field":"r","type":"quantitative","scale":{"type":"log","domain":[0.3,900],"nice":false},"axis":null},
      "stroke":{"field":"s","type":"nominal","scale":{"domain":["12.27 T","12.42 T","12.57 T","12.77 T","12.96 T","13.46 T","14.96 T","16.96 T"],"range":["#800000","#008000","#008080","#0000a0","#ff8000","#8000ff","#ff0080","#404040"]}}}}
   ]}
 ],
 "resolve":{"axis":{"x":"independent","y":"independent"},"scale":{"stroke":"independent","fill":"independent","shape":"independent"}}
}
]
}
